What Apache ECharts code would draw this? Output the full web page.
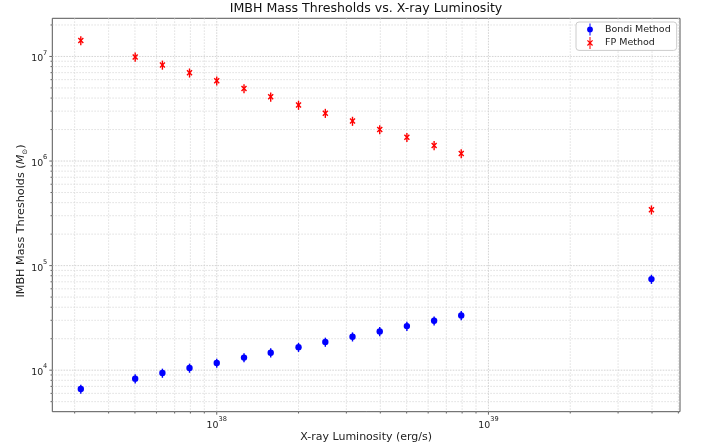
<!DOCTYPE html>
<html>
<head>
<meta charset="utf-8">
<script src="https://cdn.jsdelivr.net/npm/echarts@6/dist/echarts.min.js"></script>
<style>
html,body{margin:0;padding:0;background:#fff;}
#chart{width:701px;height:445px;}
</style>
</head>
<body>
<div id="chart"></div>
<script>
// X-ray luminosity (erg/s)
const luminosity = [3.16e37, 5.01e37, 6.31e37, 7.94e37, 1.0e38, 1.26e38, 1.58e38, 2.0e38, 2.51e38, 3.16e38, 3.98e38, 5.01e38, 6.31e38, 7.94e38, 3.98e39];
// Bondi method thresholds (Msun) and errors
const bondiMass = [6600, 8300, 9400, 10500, 11700, 13200, 14700, 16600, 18600, 20900, 23500, 26400, 29700, 33400, 74300];
const bondiErr  = [660, 830, 940, 1050, 1170, 1320, 1470, 1660, 1860, 2090, 2350, 2640, 2970, 3340, 7430];
// Fundamental-plane method thresholds (Msun) and errors
const fpMass = [1.42e7, 9.9e6, 8.3e6, 6.98e6, 5.85e6, 4.94e6, 4.11e6, 3.43e6, 2.87e6, 2.41e6, 2.0e6, 1.69e6, 1.41e6, 1.18e6, 3.42e5];
const fpErr  = [1.42e6, 9.9e5, 8.3e5, 6.98e5, 5.85e5, 4.94e5, 4.11e5, 3.43e5, 2.87e5, 2.41e5, 2.0e5, 1.69e5, 1.41e5, 1.18e5, 3.42e4];
const seriesNames = ['Bondi Method', 'FP Method'];

const X_MIN = 2.482e37, X_MAX = 5.07e39;
const Y_MIN = 4009, Y_MAX = 2.317e7;
const BLUE = '#0000ff', RED = '#ff0000';
const FONT = 'DejaVu Sans';

function logTicks(lo, hi) {
  const major = [], minor = [];
  for (let d = Math.floor(Math.log10(lo)); d <= Math.ceil(Math.log10(hi)); d++) {
    for (let k = 1; k <= 9; k++) {
      const v = k * Math.pow(10, d);
      if (v >= lo && v <= hi) (k === 1 ? major : minor).push(v);
    }
  }
  return {major, minor};
}
const xt = logTicks(X_MIN, X_MAX);
const yt = logTicks(Y_MIN, Y_MAX);

function isPow10(v) {
  const e = Math.log10(v);
  return Math.abs(e - Math.round(e)) < 1e-6 ? Math.round(e) : null;
}
function powLabel(v) {
  const e = isPow10(v);
  return e === null ? '' : '{b|10}{s|' + e + '}';
}
const powRich = {
  b: {fontFamily: FONT, fontSize: 9.4, color: '#222', lineHeight: 14, verticalAlign: 'bottom'},
  s: {fontFamily: FONT, fontSize: 6.6, color: '#222', lineHeight: 9, verticalAlign: 'top'}
};

function renderGrid(params, api) {
  const cs = params.coordSys;
  const x0 = cs.x, y0 = cs.y, x1 = cs.x + cs.width, y1 = cs.y + cs.height;
  const children = [];
  const gMinor = {stroke: '#d9d9d9', lineWidth: 0.8, lineDash: [1.6, 1.4]};
  const gMajor = {stroke: '#cfcfcf', lineWidth: 0.9, lineDash: [1.6, 1.2]};
  xt.minor.forEach(v => {
    const px = api.coord([v, Y_MIN])[0];
    children.push({type: 'line', shape: {x1: px, y1: y0, x2: px, y2: y1}, style: gMinor, silent: true});
  });
  yt.minor.forEach(v => {
    const py = api.coord([X_MIN, v])[1];
    children.push({type: 'line', shape: {x1: x0, y1: py, x2: x1, y2: py}, style: gMinor, silent: true});
  });
  xt.major.forEach(v => {
    const px = api.coord([v, Y_MIN])[0];
    children.push({type: 'line', shape: {x1: px, y1: y0, x2: px, y2: y1}, style: gMajor, silent: true});
  });
  yt.major.forEach(v => {
    const py = api.coord([X_MIN, v])[1];
    children.push({type: 'line', shape: {x1: x0, y1: py, x2: x1, y2: py}, style: gMajor, silent: true});
  });
  const tstyle = {stroke: '#444', lineWidth: 0.8};
  xt.major.forEach(v => { const px = api.coord([v, Y_MIN])[0];
    children.push({type: 'line', shape: {x1: px, y1: y1, x2: px, y2: y1 + 3}, style: tstyle}); });
  xt.minor.forEach(v => { const px = api.coord([v, Y_MIN])[0];
    children.push({type: 'line', shape: {x1: px, y1: y1, x2: px, y2: y1 + 1.8}, style: tstyle}); });
  yt.major.forEach(v => { const py = api.coord([X_MIN, v])[1];
    children.push({type: 'line', shape: {x1: x0, y1: py, x2: x0 - 3, y2: py}, style: tstyle}); });
  yt.minor.forEach(v => { const py = api.coord([X_MIN, v])[1];
    children.push({type: 'line', shape: {x1: x0, y1: py, x2: x0 - 1.8, y2: py}, style: tstyle}); });
  return {type: 'group', children};
}

function makeErrRender(color, marker) {
  return function (params, api) {
    const x = api.value(0), y = api.value(1), e = api.value(2);
    const c = api.coord([x, y]);
    const top = api.coord([x, y + e]);
    const bot = api.coord([x, y - e]);
    const children = [
      {type: 'line', shape: {x1: c[0], y1: top[1], x2: c[0], y2: bot[1]}, style: {stroke: color, lineWidth: 1.4}}
    ];
    if (marker === 'o') {
      children.push({type: 'circle', shape: {cx: c[0], cy: c[1], r: 3.2}, style: {fill: color}});
    } else {
      const r = 2.5;
      children.push({type: 'line', shape: {x1: c[0] - r, y1: c[1] - r, x2: c[0] + r, y2: c[1] + r}, style: {stroke: color, lineWidth: 1.4}});
      children.push({type: 'line', shape: {x1: c[0] - r, y1: c[1] + r, x2: c[0] + r, y2: c[1] - r}, style: {stroke: color, lineWidth: 1.4}});
    }
    return {type: 'group', children};
  };
}

const bondiData = luminosity.map((l, i) => [l, bondiMass[i], bondiErr[i]]);
const fpData = luminosity.map((l, i) => [l, fpMass[i], fpErr[i]]);

const bondiIcon = 'path://M4.4,0H5.6V14H4.4Z M8.4,7A3.4,3.4,0,1,1,1.6,7A3.4,3.4,0,1,1,8.4,7Z';
const fpIcon = 'path://M4.4,0H5.6V14H4.4Z M1.5,4.5L2.5,3.5L8.5,9.5L7.5,10.5Z M7.5,3.5L8.5,4.5L2.5,10.5L1.5,9.5Z';

const chart = echarts.init(document.getElementById('chart'), null, {renderer: 'canvas'});
chart.setOption({
  animation: false,
  backgroundColor: '#fff',
  title: {
    text: 'IMBH Mass Thresholds vs. X-ray Luminosity',
    left: 366, top: 1, padding: 0, textAlign: 'center',
    textStyle: {fontFamily: FONT, fontSize: 12.6, fontWeight: 'normal', color: '#111', lineHeight: 16}
  },
  legend: {
    data: [{name: seriesNames[0], icon: bondiIcon}, {name: seriesNames[1], icon: fpIcon}],
    orient: 'vertical', left: 576, top: 22,
    itemWidth: 20, itemHeight: 12, itemGap: 1.4,
    padding: [1.5, 6, 1.5, 11],
    backgroundColor: 'rgba(255,255,255,0.8)', borderColor: '#cccccc', borderWidth: 1, borderRadius: 3,
    textStyle: {fontFamily: FONT, fontSize: 9.5, color: '#222', lineHeight: 12}
  },
  grid: {left: 52.3, right: 21, top: 18.3, bottom: 33.3, outerBoundsMode: 'none', containLabel: false,
    show: true, borderColor: '#555', borderWidth: 1, backgroundColor: 'transparent'},
  xAxis: {
    type: 'log', logBase: 10, min: X_MIN, max: X_MAX,
    name: 'X-ray Luminosity (erg/s)', nameLocation: 'middle', nameGap: 19, nameMoveOverlap: false,
    nameTextStyle: {fontFamily: FONT, fontSize: 11, color: '#222', lineHeight: 13},
    axisLine: {show: false}, axisTick: {show: false}, splitLine: {show: false},
    axisLabel: {margin: 4, formatter: powLabel, rich: powRich}
  },
  yAxis: {
    type: 'log', logBase: 10, min: Y_MIN, max: Y_MAX,
    name: '{n|IMBH Mass Thresholds (}{m|M}{s|⊙}{n|)}', nameLocation: 'middle', nameGap: 24, nameRotate: 90,
    nameMoveOverlap: false,
    nameTextStyle: {
      padding: [0, 12, 0, 0],
      rich: {
        n: {fontFamily: FONT, fontSize: 11.2, color: '#222', lineHeight: 15, verticalAlign: 'middle'},
        m: {fontFamily: FONT, fontSize: 11.2, fontStyle: 'italic', color: '#222', lineHeight: 15, verticalAlign: 'middle'},
        s: {fontFamily: FONT, fontSize: 7, color: '#222', lineHeight: 8, verticalAlign: 'bottom'}
      }
    },
    axisLine: {show: false}, axisTick: {show: false}, splitLine: {show: false},
    axisLabel: {margin: 5, formatter: powLabel, rich: powRich}
  },
  series: [
    {type: 'custom', name: '_grid', data: [[X_MIN, Y_MIN]], renderItem: renderGrid, silent: true, z: 1, clip: false},
    {type: 'custom', name: seriesNames[0], data: bondiData, renderItem: makeErrRender(BLUE, 'o'),
     itemStyle: {color: BLUE}, encode: {x: 0, y: 1}, z: 3},
    {type: 'custom', name: seriesNames[1], data: fpData, renderItem: makeErrRender(RED, 'x'),
     itemStyle: {color: RED}, encode: {x: 0, y: 1}, z: 3}
  ]
});
</script>
</body>
</html>
